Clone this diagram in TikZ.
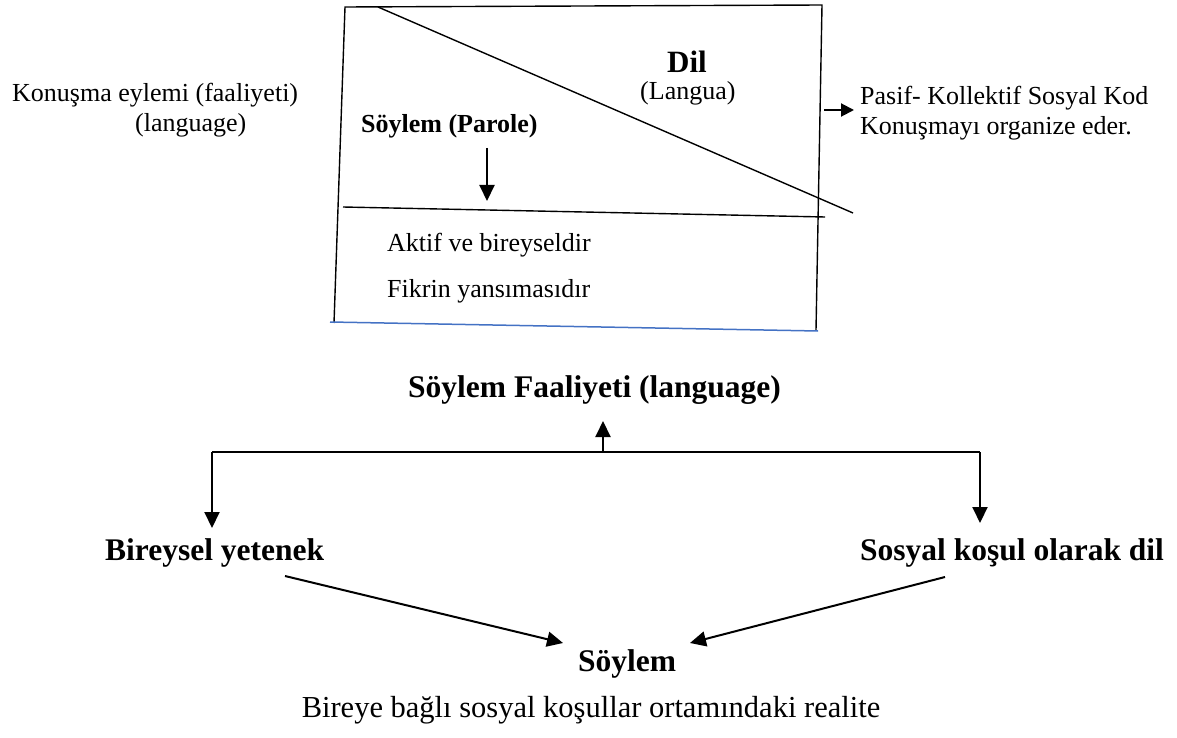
\documentclass[tikz,border=0pt]{standalone}
\usepackage{fontspec}
\setmainfont{Liberation Serif}
\usetikzlibrary{arrows.meta}
\tikzset{
  txt/.style={inner sep=0pt, anchor=base west, font=\fontsize{26}{30}\selectfont},
  btxt/.style={inner sep=0pt, anchor=base west, font=\fontsize{31.5}{36}\selectfont\bfseries},
  mtxt/.style={inner sep=0pt, anchor=base west, font=\fontsize{26}{30}\selectfont\bfseries},
  arr/.style={-{Triangle[length=16pt,width=15pt]}, line width=2pt},
  sarr/.style={-{Triangle[length=13pt,width=13pt]}, line width=2pt},
  boxline/.style={line width=1.4pt},
}
\begin{document}
\begin{tikzpicture}[x=1pt,y=-1pt]
\useasboundingbox (0,0) rectangle (1177,738);
% box corners
\coordinate (tl) at (345,7);
\coordinate (tr) at (822,5);
\coordinate (br) at (816,330);
\coordinate (bl) at (334,323);
\draw[boxline] (bl) -- (tl) -- (tr) -- (br);
\coordinate (bluel) at (330,322);
\coordinate (bluer) at (818,331);
\draw[line width=1.5pt, color={rgb,255:red,68;green,114;blue,196}] (bluel) -- (bluer);
\coordinate (hl) at (343,207);
\coordinate (hr) at (825,217);
\draw[boxline] (hl) -- (hr);
\coordinate (dl) at (378,7);
\coordinate (dr) at (853,213);
\draw[boxline] (dl) -- (dr);
% texts upper
\node[txt] (kon) at (12,102) {Konuşma eylemi (faaliyeti)};
\node[txt] (lang) at (135,132) {(language)};
\node[txt] (pas) at (860,105) {Pasif- Kollektif Sosyal Kod};
\node[txt] (org) at (860,135) {Konuşmayı organize eder.};
\node[inner sep=0pt, anchor=base, font=\fontsize{31}{36}\selectfont\bfseries] (dil) at (687,73) {Dil};
\node[txt] (langua) at (640,100) {(Langua)};
\node[mtxt] (parole) at (361,133) {Söylem (Parole)};
\node[txt] (aktif) at (387,251) {Aktif ve bireyseldir};
\node[txt] (fikr) at (387,297) {Fikrin yansımasıdır};
% arrows upper
\coordinate (ra0) at (824,110);
\draw[sarr] (ra0) -- ([xshift=-6pt]pas.west |- ra0);
\coordinate (pa0) at (487,148);
\coordinate (pa1) at (487,201);
\draw[arr] (pa0) -- (pa1);
% lower
\node[btxt] (faal) at (408,397) {Söylem Faaliyeti (language)};
\coordinate (barl) at (212,452);
\coordinate (barm) at (603,452);
\coordinate (barr) at (980,452);
\draw[line width=1.5pt] (barl) -- (barr);
\draw[arr] (barm) -- (603,421);
\node[btxt] (bir) at (105,560) {Bireysel yetenek};
\node[btxt] (sos) at (860,560) {Sosyal koşul olarak dil};
\draw[arr] (barl) -- (212,528);
\draw[arr] (barr) -- (980,523);
\node[btxt] (soy) at (578,671) {Söylem};
\coordinate (la0) at (285,576);
\coordinate (ra1) at (945,577);
\draw[arr] (la0) -- (563,643);
\draw[arr] (ra1) -- (690,643);
\node[inner sep=0pt, anchor=base, font=\fontsize{30.5}{34}\selectfont] (real) at (591,717) {Bireye bağlı sosyal koşullar ortamındaki realite};
\end{tikzpicture}
\end{document}
